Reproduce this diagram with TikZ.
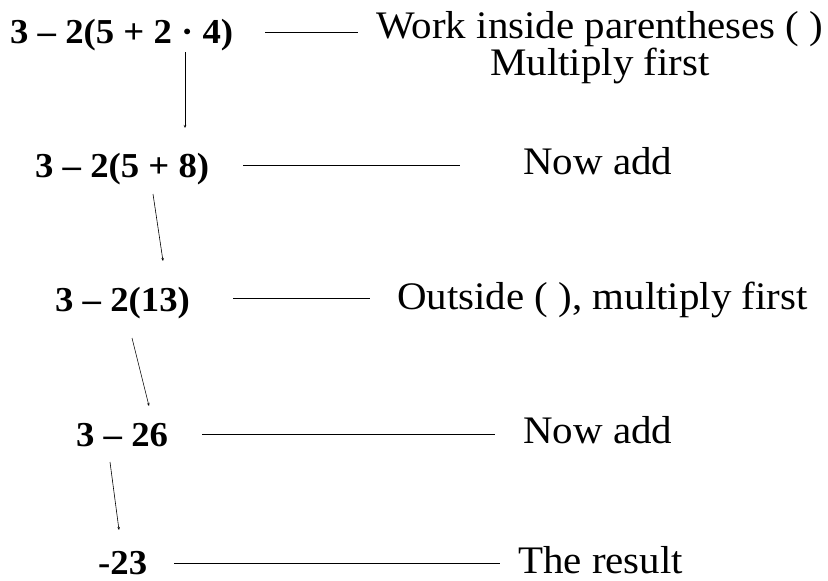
\documentclass[tikz,border=0pt]{standalone}
\usepackage{fontspec}
\setmainfont{Liberation Serif}[FakeStretch=1.05]
\usetikzlibrary{arrows.meta}
\begin{document}
\begin{tikzpicture}[x=1pt,y=-1pt,
  expr/.style={font=\fontsize{35}{40}\selectfont\bfseries, inner sep=0pt, anchor=base west},
  lab/.style={font=\fontsize{39}{44}\selectfont, inner sep=0pt, anchor=base west},
  conn/.style={line width=0.6pt},
  arr/.style={line width=0.6pt, -{Stealth[length=3pt,width=2.5pt]}}]
\useasboundingbox (0,0) rectangle (828,581);
\node[expr] (e1) at (10,43) {3 – 2(5 + 2 · 4)};
\node[expr] (e2) at (35,177) {3 – 2(5 + 8)};
\node[expr] (e3) at (55,311) {3 – 2(13)};
\node[expr] (e4) at (76,446) {3 – 26};
\node[expr] (e5) at (98,574) {-23};
\node[lab, anchor=north, align=center, font=\fontsize{39}{35}\selectfont] (l1) at (600,11) {Work inside parentheses ( )\\Multiply first};
\node[lab] (l2) at (523,174) {Now add};
\node[lab] (l3) at (397,309) {Outside ( ), multiply first};
\node[lab] (l4) at (523,443) {Now add};
\node[lab] (l5) at (518,573) {The result};
\coordinate (h1a) at (265,32); \coordinate (h1b) at (358,32);
\coordinate (h2a) at (243,165); \coordinate (h2b) at (460,165);
\coordinate (h3a) at (233,298); \coordinate (h3b) at (370,298);
\coordinate (h4a) at (202,434); \coordinate (h4b) at (495,434);
\coordinate (h5a) at (174,563); \coordinate (h5b) at (500,563);
\draw[conn] (h1a) -- (h1b);
\draw[conn] (h2a) -- (h2b);
\draw[conn] (h3a) -- (h3b);
\draw[conn] (h4a) -- (h4b);
\draw[conn] (h5a) -- (h5b);
\coordinate (a1a) at (185,52); \coordinate (a1b) at (185,128);
\coordinate (a2a) at (153,194); \coordinate (a2b) at (163,261);
\coordinate (a3a) at (132,338); \coordinate (a3b) at (149,406);
\coordinate (a4a) at (110,462); \coordinate (a4b) at (119,530);
\draw[arr] (a1a) -- (a1b);
\draw[arr] (a2a) -- (a2b);
\draw[arr] (a3a) -- (a3b);
\draw[arr] (a4a) -- (a4b);
\end{tikzpicture}
\end{document}
